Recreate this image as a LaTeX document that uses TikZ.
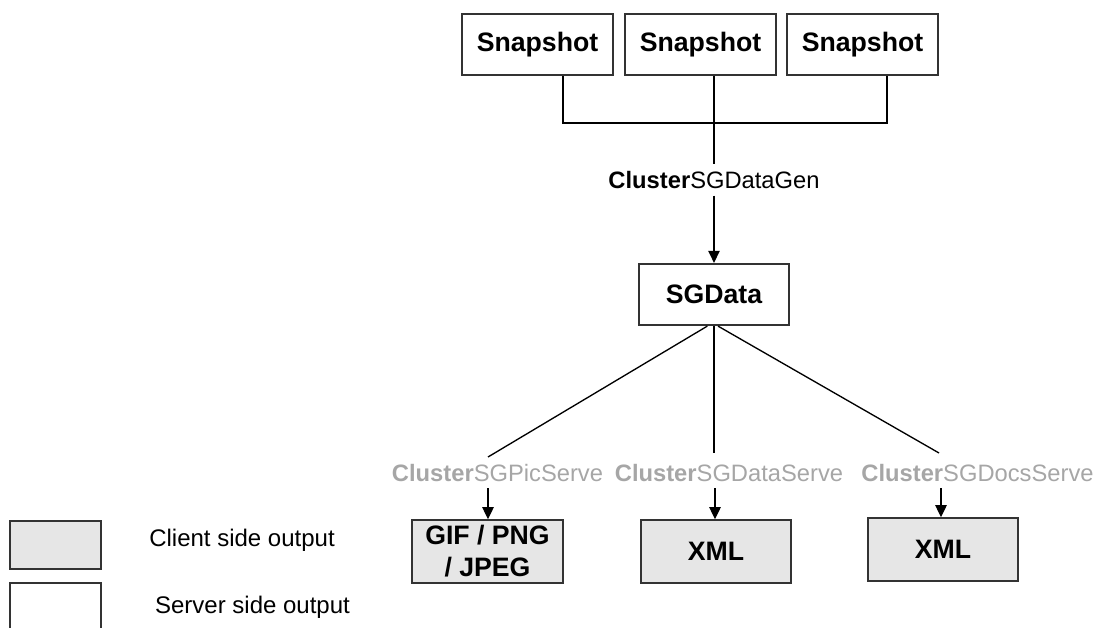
\documentclass[tikz,border=0pt]{standalone}
\usepackage{fontspec}
\setmainfont{Liberation Sans}
\usetikzlibrary{arrows.meta}
\definecolor{servgray}{HTML}{A6A6A6}
\definecolor{outfill}{HTML}{E6E6E6}
\definecolor{boxline}{HTML}{333333}

\begin{document}
\begin{tikzpicture}[x=0.75pt,y=-0.75pt]
  \tikzstyle{BoxStyle}=[draw=boxline,line width=1.4pt,inner sep=0pt,
    minimum width=113pt,minimum height=46pt,align=center,
    font=\fontsize{20}{24}\selectfont\bfseries]
  \tikzstyle{OutStyle}=[BoxStyle,fill=outfill,minimum height=47pt]
  \tikzstyle{GenStyle}=[inner xsep=0pt,inner ysep=5pt,font=\fontsize{17.8}{20}\selectfont]
  \tikzstyle{ServStyle}=[GenStyle,text=servgray]
  \tikzstyle{KeyStyle}=[draw=boxline,line width=1.4pt,minimum width=68pt,minimum height=36pt]
  \tikzstyle{LegendStyle}=[inner sep=0pt,font=\fontsize{18}{20}\selectfont]
  \tikzstyle{EdgeStyle}=[line width=1pt]
  \tikzstyle{FeedStyle}=[EdgeStyle,-{Triangle[length=9pt,width=8.5pt]}]
  \useasboundingbox (0,0) rectangle (1099,628);
  \clip (0,0) rectangle (1099,628);
  % snapshots
  \node[BoxStyle] (Snap1) at (537.5,44.5) {Snapshot};
  \node[BoxStyle] (Snap2) at (700.5,44.5) {Snapshot};
  \node[BoxStyle] (Snap3) at (862.5,44.5) {Snapshot};
  \coordinate (Bus1) at (563,123);
  \coordinate (Bus3) at (887,123);
  \node[GenStyle] (Gen) at (714,180) {\textbf{Cluster}SGDataGen};
  \node[BoxStyle] (SGData) at (714,294.5) {SGData};
  % serve labels
  \node[ServStyle] (PicServe) at (497.5,473) {\textbf{Cluster}SGPicServe};
  \node[ServStyle] (DataServe) at (729,473) {\textbf{Cluster}SGDataServe};
  \node[ServStyle] (DocsServe) at (977.5,473) {\textbf{Cluster}SGDocsServe};
  \coordinate (PicIn) at (488,457);
  \coordinate (DataIn) at (714,453);
  \coordinate (DocsIn) at (939,453);
  \coordinate (PicOut) at (488,488);
  \coordinate (DataOut) at (715,488);
  \coordinate (DocsOut) at (941,488);
  % outputs
  \node[OutStyle] (Gif) at (487.5,551.5) {GIF / PNG\\/ JPEG};
  \node[OutStyle] (Xml1) at (716,551.5) {XML};
  \node[OutStyle] (Xml2) at (943,549.5) {XML};
  % legend
  \node[KeyStyle,fill=outfill] (ClientKey) at (55.5,545) {};
  \node[KeyStyle,minimum height=43.5pt] (ServerKey) at (55.5,612) {};
  \node[LegendStyle] (ClientText) at (242,540) {Client side output};
  \node[LegendStyle] (ServerText) at (252.5,607) {Server side output};

  \draw[EdgeStyle] (Snap1.south -| Bus1) -- (Bus1) -- (Bus3) -- (Snap3.south -| Bus3);
  \draw[EdgeStyle] (Snap2.south -| Gen) -- (Gen.north);
  \draw[FeedStyle] (Gen.south) -- (SGData.north);
  \draw[EdgeStyle] ([xshift=-5pt]SGData.south) -- (PicIn);
  \draw[EdgeStyle] (SGData.south) -- (DataIn);
  \draw[EdgeStyle] ([xshift=3pt]SGData.south) -- (DocsIn);
  \draw[FeedStyle] (PicOut) -- (Gif.north -| PicOut);
  \draw[FeedStyle] (DataOut) -- (Xml1.north -| DataOut);
  \draw[FeedStyle] (DocsOut) -- (Xml2.north -| DocsOut);
\end{tikzpicture}
\end{document}
